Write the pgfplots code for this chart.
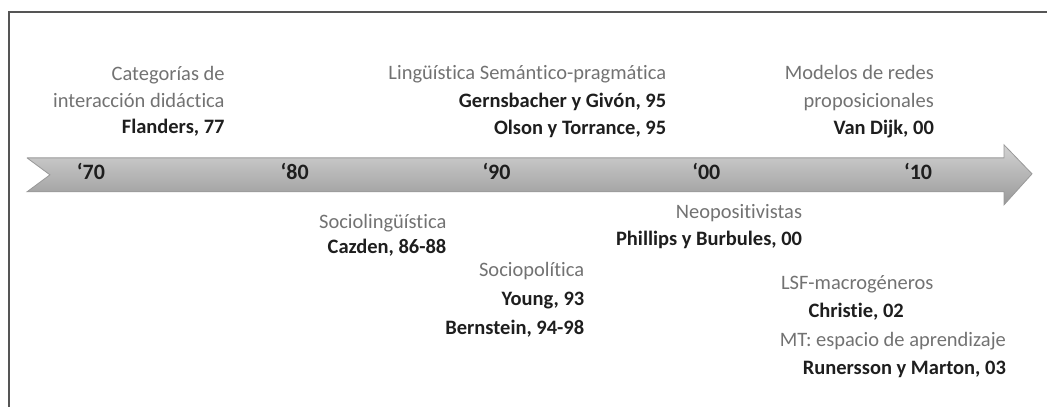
\documentclass[border=0pt]{standalone}
\usepackage{fontspec}
\setmainfont{Carlito}[Ligatures=NoCommon]
\usepackage{pgfplots}
\pgfplotsset{compat=1.18}
\definecolor{lbl}{HTML}{727272}
\definecolor{nm}{HTML}{1E1E1E}
\definecolor{frm}{HTML}{555555}
\tikzset{
  cat/.style={font=\fontsize{20.5}{24}\selectfont, text=lbl, inner sep=0pt},
  auth/.style={font=\fontsize{20.5}{24}\selectfont\bfseries, text=nm, inner sep=0pt},
  dec/.style={font=\fontsize{22}{26}\selectfont\bfseries, text=nm, inner sep=0pt},
}
\begin{document}
\begin{tikzpicture}
\begin{axis}[
  scale only axis, width=1048pt, height=407pt,
  xmin=0, xmax=1048, ymin=0, ymax=407, y dir=reverse,
  hide axis, clip=false,
]
% bounding area
\addplot[draw=none, mark=none, forget plot] coordinates {(0,0) (1048,407)};
% frame
\addplot[draw=frm, line width=2pt, mark=none] coordinates {(9.5,407) (9.5,12) (1048,12)};
% timeline arrow
\addplot[draw=gray!80, line width=0.8pt, mark=none,
  top color=gray!35, middle color=white!95!gray, bottom color=gray!80]
  coordinates {(27,158) (1005,158) (1005,145) (1033,174) (1005,205) (1005,192) (27,192) (50,175) (27,158)};

% decades
\node[dec] at (axis cs:91,172) {‘70};
\node[dec] at (axis cs:295,172) {‘80};
\node[dec] at (axis cs:497,172) {‘90};
\node[dec] at (axis cs:707,172) {‘00};
\node[dec] at (axis cs:919,172) {‘10};

% top left
\node[cat, anchor=mid east] at (axis cs:225,78) {Categorías de};
\node[cat, anchor=mid east] at (axis cs:225,105) {interacción didáctica};
\node[auth, anchor=mid east] at (axis cs:225,131) {Flanders, 77};
% top middle
\node[cat, anchor=mid east] at (axis cs:667,77) {Lingüística Semántico-pragmática};
\node[auth, anchor=mid east] at (axis cs:667,105) {Gernsbacher y Givón, 95};
\node[auth, anchor=mid east] at (axis cs:667,132) {Olson y Torrance, 95};
% top right
\node[cat, anchor=mid east] at (axis cs:935,77) {Modelos de redes};
\node[cat, anchor=mid east] at (axis cs:935,105) {proposicionales};
\node[auth, anchor=mid east] at (axis cs:935,132) {Van Dijk, 00};

% below
\node[cat, anchor=mid east] at (axis cs:447,226) {Sociolingüística};
\node[auth, anchor=mid east] at (axis cs:447,251) {Cazden, 86-88};
\node[cat, anchor=mid east] at (axis cs:803,216) {Neopositivistas};
\node[auth, anchor=mid east] at (axis cs:803,243) {Phillips y Burbules, 00};
\node[cat, anchor=mid east] at (axis cs:585,274) {Sociopolítica};
\node[auth, anchor=mid east] at (axis cs:585,303) {Young, 93};
\node[auth, anchor=mid east] at (axis cs:585,332) {Bernstein, 94-98};
\node[cat, anchor=mid] at (axis cs:858,287) {LSF-macrogéneros};
\node[auth, anchor=mid] at (axis cs:857,315) {Christie, 02};
\node[cat, anchor=mid east] at (axis cs:1007,344) {MT: espacio de aprendizaje};
\node[auth, anchor=mid east] at (axis cs:1007,372) {Runersson y Marton, 03};
\end{axis}
\end{tikzpicture}
\end{document}
